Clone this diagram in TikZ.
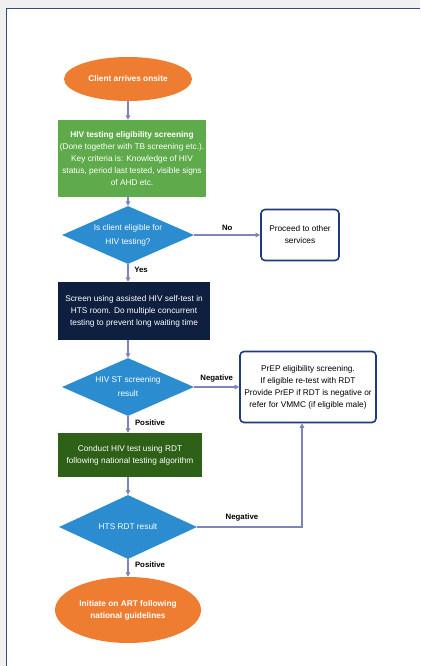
\documentclass[tikz,border=0pt]{standalone}
\usepackage{fontspec}
\setmainfont{Liberation Sans}
\usetikzlibrary{shapes.geometric,arrows.meta}
\definecolor{bggray}{HTML}{F0F0F0}
\definecolor{frameblue}{HTML}{2F4F7F}
\definecolor{corange}{HTML}{EE7D31}
\definecolor{cgreen}{HTML}{5FAB4B}
\definecolor{cblue}{HTML}{2B8CCF}
\definecolor{cnavy}{HTML}{0F1F40}
\definecolor{cdkgreen}{HTML}{2F6018}
\definecolor{cborder}{HTML}{1F3B7D}
\definecolor{carrow}{HTML}{7E84B8}
\tikzset{
  txt/.style={font=\fontsize{8.3}{12}\selectfont, align=center, text=white},
  term/.style={ellipse, fill=corange, txt, font=\fontsize{8.3}{12}\selectfont\bfseries, inner sep=0pt},
  procbox/.style={rectangle, txt, inner sep=0pt},
  dia/.style={diamond, fill=cblue, inner sep=0pt},
  outbox/.style={rectangle, rounded corners=4pt, draw=cborder, line width=1.6pt, fill=white, txt, text=black, inner sep=0pt},
  conn/.style={draw=carrow, line width=1.1pt, -{Triangle[length=4.5pt,width=4.5pt]}},
  lbl/.style={font=\fontsize{7.8}{9}\selectfont\bfseries, text=black}
}
\begin{document}
\begin{tikzpicture}[x=1pt,y=-1pt]
\useasboundingbox (0,0) rectangle (420,666);
\fill[bggray] (0,0) rectangle (420,666);
\fill[white] (6.5,8.5) rectangle (420,666);
\draw[frameblue, line width=1.3pt] (420,8.5) -- (6.5,8.5) -- (6.5,666);

% nodes
\node[term, minimum width=128pt, minimum height=44pt] (start) at (128,79) {Client arrives onsite};
\node[procbox, fill=cgreen, minimum width=148pt, minimum height=77pt] (screen) at (132,158.5)
  {\textbf{HIV testing eligibility screening}\\(Done together with TB screening etc.).\\Key criteria is: Knowledge of HIV\\status, period last tested, visible signs\\of AHD etc.};
\node[dia, minimum width=132pt, minimum height=58pt] (d1) at (128,235) {};
\node[txt, font=\fontsize{8.3}{14}\selectfont] (d1t) at (d1) {Is client eligible for\\HIV testing?};
\node[outbox, minimum width=78pt, minimum height=51pt] (other) at (300,235) {Proceed to other\\services};
\node[procbox, fill=cnavy, minimum width=152pt, minimum height=58pt] (self) at (134,311) {Screen using assisted HIV self-test in\\HTS room. Do multiple concurrent\\testing to prevent long waiting time};
\node[dia, minimum width=132pt, minimum height=58pt] (d2) at (128,387) {};
\node[txt, font=\fontsize{8.3}{14}\selectfont] (d2t) at (d2) {HIV ST screening\\result};
\node[outbox, minimum width=136pt, minimum height=71pt] (prep) at (308,387) {PrEP eligibility screening.\\If eligible re-test with RDT\\Provide PrEP if RDT is negative or\\refer for VMMC (if eligible male)};
\node[procbox, fill=cdkgreen, minimum width=144pt, minimum height=44pt] (rdt) at (130,455) {Conduct HIV test using RDT\\following national testing algorithm};
\node[dia, minimum width=138pt, minimum height=64pt] (d3) at (128,527) {};
\node[txt] (d3t) at (d3) {HTS RDT result};
\node[term, minimum width=146pt, minimum height=66pt] (art) at (128,610) {Initiate on ART following\\national guidelines};
\coordinate (bend) at (302,527);

% connectors
\draw[conn] (start.south) -- (screen.north -| start);
\draw[conn] (screen.south -| d1) -- (d1.north);
\draw[conn] (d1.east) -- node[lbl, above=1pt] {No} (other.west);
\draw[conn] (d1.south) -- (self.north -| d1);
\node[lbl] (yes) at (141,270) {Yes};
\draw[conn] (self.south -| d2) -- (d2.north);
\draw[conn] (d2.east) -- node[lbl, above=1pt] {Negative} (prep.west);
\draw[conn] (d2.south) -- (rdt.north -| d2);
\node[lbl] (pos1) at (150,423) {Positive};
\draw[conn] (rdt.south -| d3) -- (d3.north);
\draw[conn] (d3.east) -- (bend) -- (bend |- prep.south);
\node[lbl] (neg2) at (242,517) {Negative};
\draw[conn] (d3.south) -- (art.north);
\node[lbl] (pos2) at (150,565) {Positive};
\end{tikzpicture}
\end{document}
